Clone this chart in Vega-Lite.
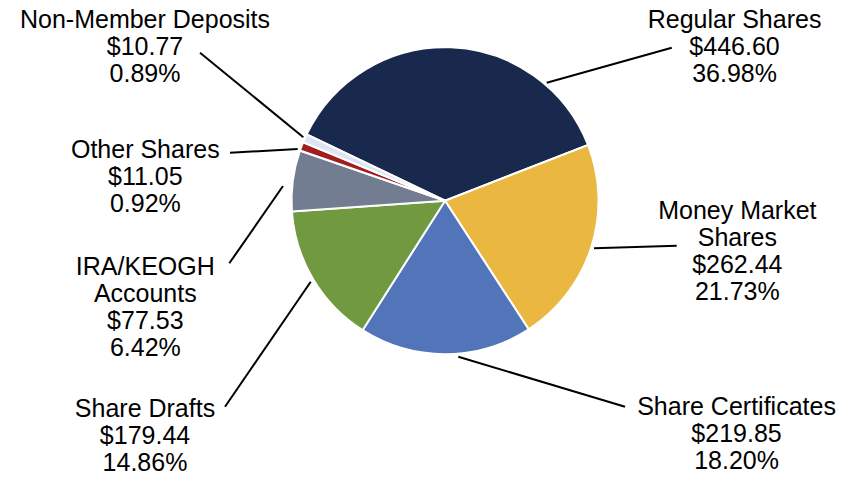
{
  "$schema": "https://vega.github.io/schema/vega-lite/v6.json",
  "width": 844,
  "height": 477,
  "autosize": {"type": "fit", "contains": "padding"},
  "padding": 0,
  "background": "white",
  "config": {"view": {"stroke": null}},
  "data": {
    "values": [
      {"category": "Regular Shares", "name": "Regular Shares", "value": 446.60, "pct": 0.3698, "rank": 1, "lx": 1.886, "ly": 1.127, "sx": 0.6625, "sy": 0.7687, "ex": 1.4769, "ey": 0.9967},
      {"category": "Money Market Shares", "name": "Money Market\nShares", "value": 262.44, "pct": 0.2173, "rank": 2, "lx": 1.9042, "ly": -0.1212, "sx": 0.9707, "sy": -0.3101, "ex": 1.5094, "ey": -0.2932},
      {"category": "Share Certificates", "name": "Share Certificates", "value": 219.85, "pct": 0.1820, "rank": 3, "lx": 1.899, "ly": -1.3961, "sx": 0.0866, "sy": -1.0163, "ex": 1.1726, "ey": -1.342},
      {"category": "Share Drafts", "name": "Share Drafts", "value": 179.44, "pct": 0.1486, "rank": 4, "lx": -1.9544, "ly": -1.4111, "sx": -0.8749, "sy": -0.5277, "ex": -1.4332, "ey": -1.342},
      {"category": "IRA/KEOGH Accounts", "name": "IRA/KEOGH\nAccounts", "value": 77.53, "pct": 0.0642, "rank": 5, "lx": -1.9524, "ly": -0.484, "sx": -1.0554, "sy": 0.0958, "ex": -1.4052, "ey": -0.4078},
      {"category": "Other Shares", "name": "Other Shares", "value": 11.05, "pct": 0.0092, "rank": 6, "lx": -1.9524, "ly": 0.2801, "sx": -0.9596, "sy": 0.3368, "ex": -1.4007, "ey": 0.3127},
      {"category": "Non-Member Deposits", "name": "Non-Member Deposits", "value": 10.77, "pct": 0.0089, "rank": 7, "lx": -1.9544, "ly": 1.1231, "sx": -0.9231, "sy": 0.413, "ex": -1.5961, "ey": 0.9642}
    ]
  },
  "transform": [
    {"calculate": "datum.name + '\\n$' + format(datum.value, '.2f') + '\\n' + format(datum.pct, '.2%')", "as": "label"}
  ],
  "layer": [
    {
      "mark": {"type": "arc", "outerRadius": 153.5, "stroke": "white", "strokeWidth": 2},
      "encoding": {
        "x": {"datum": 0, "type": "quantitative", "scale": {"domain": [-2.899, 2.599], "nice": false, "zero": false}, "axis": null},
        "y": {"datum": 0, "type": "quantitative", "scale": {"domain": [-1.8, 1.3075], "nice": false, "zero": false}, "axis": null},
        "theta": {"field": "value", "type": "quantitative", "stack": true, "scale": {"range": [-1.124, 5.159]}},
        "order": {"field": "rank", "type": "quantitative"},
        "color": {
          "field": "category",
          "type": "nominal",
          "scale": {
            "domain": ["Regular Shares", "Money Market Shares", "Share Certificates", "Share Drafts", "IRA/KEOGH Accounts", "Other Shares", "Non-Member Deposits"],
            "range": ["#18294d", "#eab840", "#5275ba", "#709940", "#727d91", "#a01e1e", "#dce4f5"]
          },
          "legend": null
        }
      }
    },
    {
      "mark": {"type": "rule", "stroke": "black", "strokeWidth": 2},
      "encoding": {
        "x": {"field": "sx", "type": "quantitative", "scale": {"domain": [-2.899, 2.599], "nice": false, "zero": false}, "axis": null},
        "y": {"field": "sy", "type": "quantitative", "scale": {"domain": [-1.8, 1.3075], "nice": false, "zero": false}, "axis": null},
        "x2": {"field": "ex"},
        "y2": {"field": "ey"}
      }
    },
    {
      "mark": {"type": "text", "font": "Liberation Sans", "fontSize": 25, "lineBreak": "\n", "lineHeight": 27, "align": "center", "baseline": "alphabetic", "color": "black"},
      "encoding": {
        "x": {"field": "lx", "type": "quantitative", "scale": {"domain": [-2.899, 2.599], "nice": false, "zero": false}, "axis": null},
        "y": {"field": "ly", "type": "quantitative", "scale": {"domain": [-1.8, 1.3075], "nice": false, "zero": false}, "axis": null},
        "text": {"field": "label"}
      }
    }
  ]
}
